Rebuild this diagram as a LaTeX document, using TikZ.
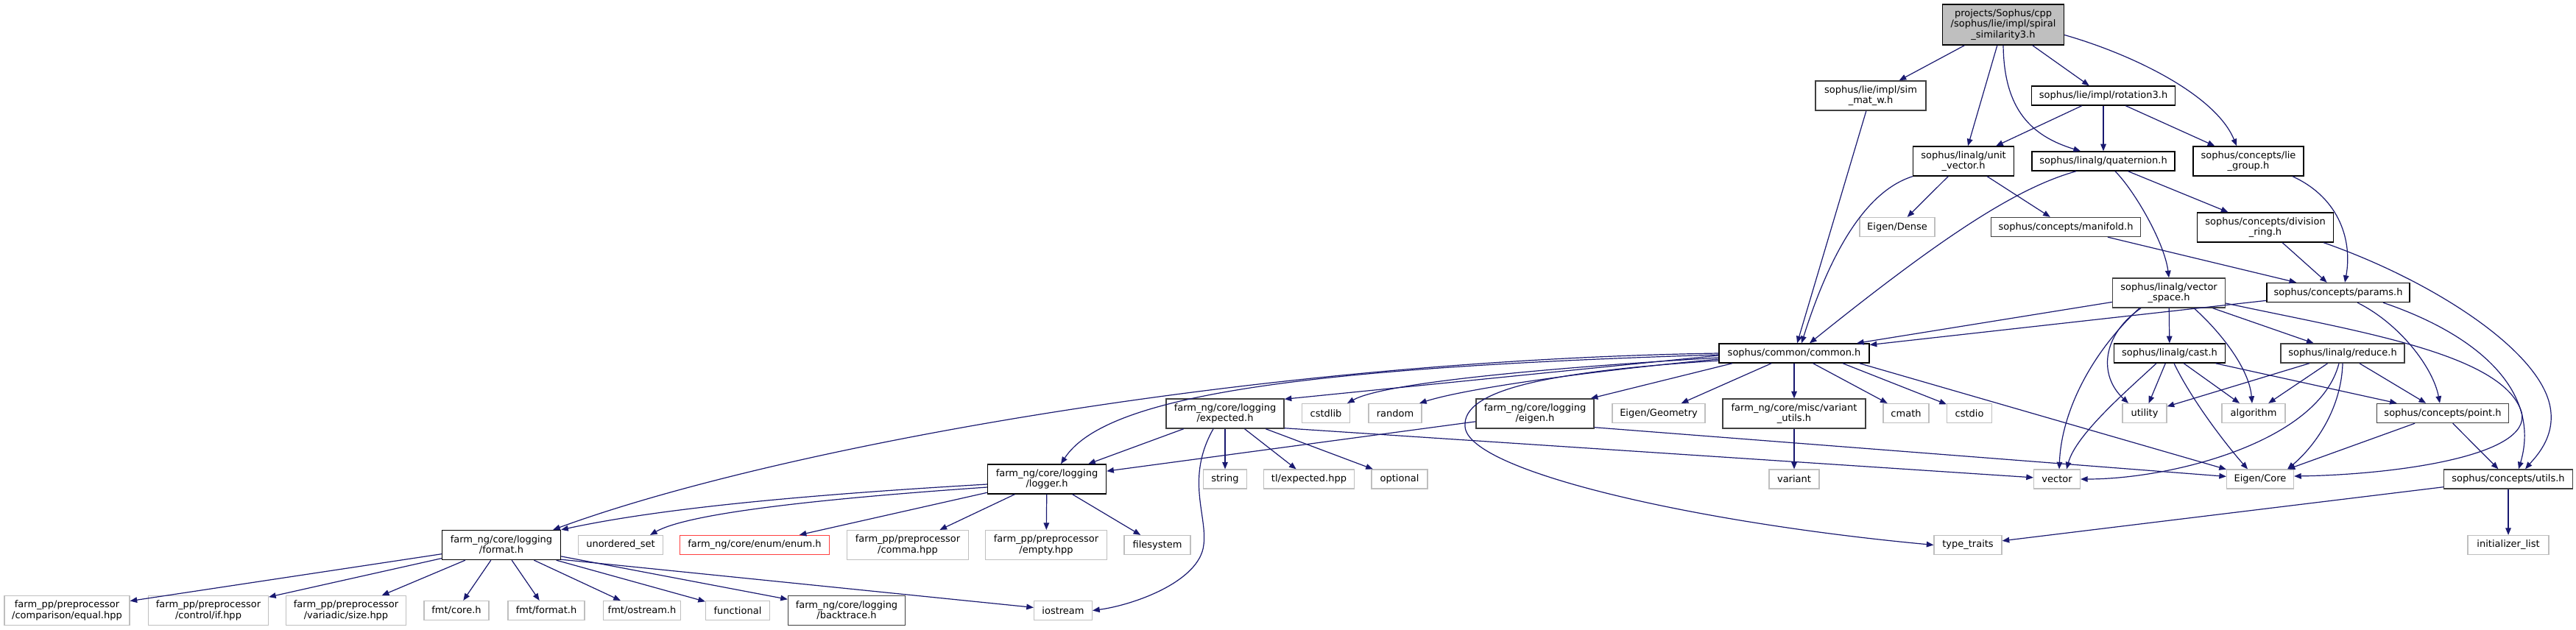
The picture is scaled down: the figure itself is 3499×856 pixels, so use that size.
\documentclass[tikz,border=0pt]{standalone}
\usepackage{fontspec}
\setmainfont{DejaVu Sans}
\usetikzlibrary{arrows.meta,calc}
\definecolor{edgecol}{HTML}{191970}
\definecolor{extgray}{HTML}{BFBFBF}
\definecolor{darkbd}{HTML}{404040}
\definecolor{rootfill}{HTML}{BFBFBF}
\definecolor{trunc}{HTML}{FF4040}
\begin{document}
\begin{tikzpicture}[x=0.5pt,y=-0.5pt,
  box/.style={draw, fill=white, align=center, font=\fontsize{6.5}{7.15}\selectfont, inner xsep=2pt, inner ysep=0pt, line width=0.7pt},
  one/.style={minimum height=13pt},
  two/.style={minimum height=20pt},
  three/.style={minimum height=27.5pt},
  doc/.style={box, draw=black},
  docg/.style={box, draw=darkbd},
  ext/.style={box, draw=extgray, line width=0.6pt},
  dep/.style={draw=edgecol, line width=0.6pt, -{Triangle[length=4.8pt,width=3.8pt]}},
]
\useasboundingbox (0,0) rectangle (3499,856);
\fill[white] (0,0) rectangle (3499,856);

% row 0
\node[doc, three, fill=rootfill, minimum width=82.5pt] (root) at (2721,33.5) {projects/Sophus/cpp\\/sophus/lie/impl/spiral\\\_similarity3.h};
% row 1
\node[docg, two, minimum width=75pt] (simmat) at (2541,130) {sophus/lie/impl/sim\\\_mat\_w.h};
\node[doc, one, minimum width=97.5pt] (rot3) at (2857,130) {sophus/lie/impl/rotation3.h};
% row 2
\node[doc, two, minimum width=68.5pt] (unitvec) at (2667,219) {sophus/linalg/unit\\\_vector.h};
\node[doc, one, minimum width=97pt] (quat) at (2857,219) {sophus/linalg/quaternion.h};
\node[doc, two, minimum width=75pt] (liegroup) at (3054,219) {sophus/concepts/lie\\\_group.h};
% row 3
\node[ext, one, minimum width=51pt] (eigendense) at (2577,308.5) {Eigen/Dense};
\node[docg, one, minimum width=101.5pt] (manifold) at (2806,308.5) {sophus/concepts/manifold.h};
\node[doc, two, minimum width=92.5pt] (divring) at (3077,309) {sophus/concepts/division\\\_ring.h};
% row 4
\node[docg, two, minimum width=76.5pt] (vecspace) at (2946,398) {sophus/linalg/vector\\\_space.h};
\node[doc, one, minimum width=97pt] (params) at (3176,397.5) {sophus/concepts/params.h};
% row 5
\node[doc, one, minimum width=102pt] (common) at (2437,480) {sophus/common/common.h};
\node[doc, one, minimum width=75.5pt] (cast) at (2947,480) {sophus/linalg/cast.h};
\node[docg, one, minimum width=84pt] (reduce) at (3182,480) {sophus/linalg/reduce.h};
% row 6
\node[docg, two, minimum width=80pt] (expected) at (1664,562) {farm\_ng/core/logging\\/expected.h};
\node[ext, one, minimum width=32.5pt] (cstdlib) at (1801,561.5) {cstdlib};
\node[ext, one, minimum width=36pt] (random) at (1895,561.5) {random};
\node[docg, two, minimum width=80pt] (eigenh) at (2085,562) {farm\_ng/core/logging\\/eigen.h};
\node[ext, one, minimum width=63pt] (eigengeom) at (2253,561.5) {Eigen/Geometry};
\node[docg, two, minimum width=97pt] (varutils) at (2437,562) {farm\_ng/core/misc/variant\\\_utils.h};
\node[ext, one, minimum width=31pt] (cmath) at (2589,561.5) {cmath};
\node[ext, one, minimum width=30.5pt] (cstdio) at (2675,561.5) {cstdio};
\node[ext, one, minimum width=30pt] (utility) at (2913,561.5) {utility};
\node[ext, one, minimum width=43pt] (algorithm) at (3061,561.5) {algorithm};
\node[docg, one, minimum width=89.5pt] (point) at (3318,561.5) {sophus/concepts/point.h};
% row 7
\node[doc, two, minimum width=80.5pt] (logger) at (1422,651) {farm\_ng/core/logging\\/logger.h};
\node[ext, one, minimum width=29.5pt] (string) at (1664,651) {string};
\node[ext, one, minimum width=61.5pt] (tlexp) at (1778,651) {tl/expected.hpp};
\node[ext, one, minimum width=38pt] (optional) at (1901,651) {optional};
\node[ext, one, minimum width=34pt] (variant) at (2437,651) {variant};
\node[ext, one, minimum width=31.5pt] (vector) at (2794,651) {vector};
\node[ext, one, minimum width=45.5pt] (eigencore) at (3070,651) {Eigen/Core};
\node[docg, one, minimum width=87.5pt] (utils) at (3407,651) {sophus/concepts/utils.h};
% row 8
\node[doc, two, minimum width=80.5pt] (format) at (681,740.5) {farm\_ng/core/logging\\/format.h};
\node[ext, one, minimum width=57.5pt] (unordset) at (843,740.5) {unordered\_set};
\node[box, one, draw=trunc, minimum width=101.5pt] (enum) at (1025,740.5) {farm\_ng/core/enum/enum.h};
\node[ext, two, minimum width=82.5pt] (comma) at (1233,740.5) {farm\_pp/preprocessor\\/comma.hpp};
\node[ext, two, minimum width=82.5pt] (empty) at (1421,740.5) {farm\_pp/preprocessor\\/empty.hpp};
\node[ext, one, minimum width=45pt] (filesystem) at (1572,740.5) {filesystem};
\node[ext, one, minimum width=46pt] (typetraits) at (2673,740.5) {type\_traits};
\node[ext, one, minimum width=55pt] (initlist) at (3407,740.5) {initializer\_list};
% row 9
\node[ext, two, minimum width=85pt] (equal) at (91,829.5) {farm\_pp/preprocessor\\/comparison/equal.hpp};
\node[ext, two, minimum width=81.5pt] (ifhpp) at (283,829.5) {farm\_pp/preprocessor\\/control/if.hpp};
\node[ext, two, minimum width=81.5pt] (size) at (470,829.5) {farm\_pp/preprocessor\\/variadic/size.hpp};
\node[ext, one, minimum width=44pt] (fmtcore) at (620,829.5) {fmt/core.h};
\node[ext, one, minimum width=52pt] (fmtformat) at (742,829.5) {fmt/format.h};
\node[ext, one, minimum width=52.5pt] (fmtostream) at (872,829.5) {fmt/ostream.h};
\node[ext, one, minimum width=43.5pt] (functional) at (1002,829.5) {functional};
\node[docg, two, minimum width=79.5pt] (backtrace) at (1150,829.5) {farm\_ng/core/logging\\/backtrace.h};
\node[ext, one, minimum width=39.5pt] (iostream) at (1444,829.5) {iostream};

% root
\draw[dep] (root) -- (simmat);
\draw[dep] (root) -- (unitvec);
\draw[dep] (root.south) .. controls (2722,150) and (2760,185) .. ($(quat.north)+(-31,0)$);
\draw[dep] (root) -- (rot3);
\draw[dep] ($(root.east)+(0,14)$) .. controls (2900,75) and (3010,130) .. ($(liegroup.north)+(-16,0)$);
% rot3
\draw[dep] (rot3) -- (unitvec);
\draw[dep] (rot3) -- (quat);
\draw[dep] (rot3) -- (liegroup);
% simmat
\draw[dep] (simmat) -- (common);
% unitvec
\draw[dep] (unitvec.south west) .. controls (2540,258) and (2490,330) .. ($(common.north)+(10,0)$);
\draw[dep] (unitvec) -- (eigendense);
\draw[dep] (unitvec) -- (manifold);
% quat
\draw[dep] ($(quat.south)+(-37,0)$) .. controls (2740,255) and (2640,320) .. ($(common.north)+(21,0)$);
\draw[dep] ($(quat.south)+(16,0)$) .. controls (2900,260) and (2940,330) .. (vecspace.north);
\draw[dep] (quat) -- (divring);
% liegroup
\draw[dep] ($(liegroup.south)+(60,0)$) .. controls (3180,270) and (3195,330) .. ($(params.north)+(9,0)$);
% manifold
\draw[dep] (manifold) -- (params);
% divring
\draw[dep] (divring) -- (params);
\draw[dep] ($(divring.south east)+(-14,0)$) .. controls (3300,380) and (3440,470) .. (3462,545) .. controls (3475,590) and (3445,620) .. ($(utils.north)+(23,0)$);
% vecspace
\draw[dep] (vecspace) -- (common);
\draw[dep] (vecspace) -- (cast);
\draw[dep] ($(vecspace.south)+(-38,0)$) .. controls (2855,455) and (2850,510) .. ($(utility.north)+(-22,0)$);
\draw[dep] ($(vecspace.south)+(-40,0)$) .. controls (2840,480) and (2800,560) .. ($(vector.north)+(3,0)$);
\draw[dep] ($(vecspace.south)+(34,0)$) .. controls (3015,450) and (3055,500) .. ($(algorithm.north)+(-2,0)$);
\draw[dep] (vecspace) -- (reduce);
\draw[dep] ($(vecspace.east)+(0,14)$) .. controls (3200,450) and (3400,480) .. (3425,560) .. controls (3440,620) and (3250,645) .. ($(eigencore.east)+(0,-4)$);
% params
\draw[dep] (params) -- (common);
\draw[dep] ($(params.south)+(26,0)$) .. controls (3260,440) and (3305,500) .. ($(point.north)+(-4,0)$);
\draw[dep] ($(params.south)+(61,0)$) .. controls (3380,460) and (3450,540) .. ($(utils.north)+(14,0)$);
% cast
\draw[dep] (cast) -- (utility);
\draw[dep] ($(cast.south)+(-18,0)$) .. controls (2890,530) and (2820,590) .. ($(vector.north)+(13,0)$);
\draw[dep] (cast) -- (algorithm);
\draw[dep] ($(cast.south)+(6,0)$) .. controls (2975,540) and (3020,600) .. ($(eigencore.north)+(-17,0)$);
\draw[dep] (cast) -- (point);
% reduce
\draw[dep] (reduce) -- (utility);
\draw[dep] (reduce) -- (algorithm);
\draw[dep] ($(reduce.south)+(-5,0)$) .. controls (3150,600) and (2950,651) .. (vector.east);
\draw[dep] (reduce.south) .. controls (3180,560) and (3140,610) .. ($(eigencore.north)+(37,0)$);
\draw[dep] (reduce) -- (point);
% point
\draw[dep] (point) -- (eigencore);
\draw[dep] (point) -- (utils);
% utils
\draw[dep] (utils) -- (initlist);
\draw[dep] (utils) -- (typetraits);
% common
\draw[dep] (common.west) .. controls (1700,490) and (1050,610) .. ($(format.north east)+(-11,0)$);
\draw[dep] ($(common.west)+(0,2)$) .. controls (1750,500) and (1500,540) .. ($(logger.north)+(19,0)$);
\draw[dep] ($(common.west)+(0,3)$) -- ($(expected.north east)+(0,1)$);
\draw[dep] ($(common.west)+(0,6)$) .. controls (2100,500) and (1880,520) .. ($(cstdlib.north)+(29,0)$);
\draw[dep] ($(common.west)+(0,8)$) .. controls (2200,500) and (2000,525) .. ($(random.north)+(33,0)$);
\draw[dep] ($(common.south)+(-84,0)$) -- ($(eigenh.north east)+(-5,0)$);
\draw[dep] (common) -- (eigengeom);
\draw[dep] (common) -- (varutils);
\draw[dep] (common) -- (cmath);
\draw[dep] ($(common.south)+(66,0)$) -- (cstdio);
\draw[dep] ($(common.south east)+(-14,0)$) -- (eigencore);
\draw[dep] ($(common.west)+(0,10)$) .. controls (2100,505) and (1985,530) .. (1990,580) .. controls (1995,640) and (2300,710) .. (typetraits.west);
% expected
\draw[dep] (expected) -- (logger);
\draw[dep] (expected) -- (string);
\draw[dep] (expected) -- (tlexp);
\draw[dep] (expected) -- (optional);
\draw[dep] ($(expected.south)+(-16,0)$) .. controls (1610,650) and (1640,700) .. (1635,740) .. controls (1630,790) and (1540,822) .. (iostream.east);
\draw[dep] ($(expected.south east)+(0,-1)$) -- (vector);
% eigenh
\draw[dep] (eigenh) -- (logger);
\draw[dep] ($(eigenh.south east)+(0,-2)$) -- (eigencore);
% varutils
\draw[dep] (varutils) -- (variant);
% logger
\draw[dep] ($(logger.west)+(0,7)$) .. controls (1100,672) and (900,690) .. (format.north east);
\draw[dep] ($(logger.west)+(0,11)$) .. controls (1080,680) and (930,700) .. ($(unordset.north)+(40,0)$);
\draw[dep] (logger) -- (enum);
\draw[dep] (logger) -- (comma);
\draw[dep] (logger) -- (empty);
\draw[dep] (logger) -- (filesystem);
% format
\draw[dep] (format) -- (equal);
\draw[dep] (format) -- (ifhpp);
\draw[dep] (format) -- (size);
\draw[dep] (format) -- (fmtcore);
\draw[dep] (format) -- (fmtformat);
\draw[dep] (format) -- (fmtostream);
\draw[dep] (format) -- (functional);
\draw[dep] (format) -- (backtrace);
\draw[dep] ($(format.south east)+(0,-1)$) -- (iostream);
\end{tikzpicture}
\end{document}
